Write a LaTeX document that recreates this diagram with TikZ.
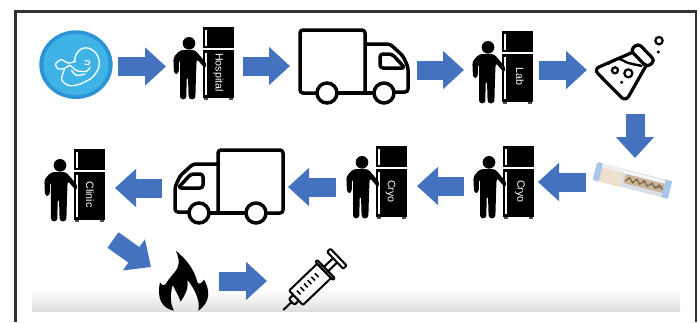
\documentclass[tikz,border=0pt]{standalone}
\usepackage{fontspec}
\setmainfont{Liberation Sans}
\usetikzlibrary{arrows.meta}
\definecolor{arrowblue}{HTML}{4472BE}
\definecolor{frameink}{HTML}{333333}
\definecolor{babyouter}{HTML}{2C93D5}
\definecolor{babyinner}{HTML}{3FB2E6}
\definecolor{vialcap}{HTML}{EFDFCF}
\definecolor{vialblue}{HTML}{A9C6E8}
\definecolor{vialtube}{HTML}{D9DFE6}
\definecolor{vialfill}{HTML}{C9B49A}
\newcommand\skewbox[4]{(#1,#2) -- (#3,#2) -- (#3,#4) -- (#1,#4) -- cycle}
\tikzset{
  zoomat/.style 2 args={shift={(#1,#2)},x=0.3333pt,y=-0.3333pt},
  blockarrow/.style={draw=arrowblue,line width=19pt,-{Triangle[length=21pt,width=37pt]}},
  truckline/.style={draw=black,line width=3.5pt,rounded corners=3pt,line join=round,line cap=round},
  flaskline/.style={draw=black,line width=3.2pt,rounded corners=3pt,line join=round},
  syringeline/.style={draw=black,line width=2pt,rounded corners=1pt,line join=round},
  pics/worker/.style 2 args={code={
    \fill[black] (0,0) rectangle (31,71);
    \fill[white] (0,21) rectangle (31,22.6);
    \fill[white] (2.2,3) rectangle (3.8,19);
    \fill[white] (2.2,26) rectangle (3.8,68);
    \fill[black!70] (1,71) rectangle (5,73);
    \fill[black!70] (26,71) rectangle (30,73);
    \begin{scope}[zoomat={-38}{-7}]
      \fill[black] (72,70) circle[radius=19];
      \fill[black,rounded corners=3pt] (46,90) -- (90,90) -- (126,132) -- (120,146) -- (95,116)
        -- (93,165) -- (91,238) -- (71,238) -- (69,170) -- (65,170) -- (64,238) -- (45,238)
        -- (45,118) -- (42,118) -- (41,162) -- (27,162) -- (25,112) -- cycle;
    \end{scope}
    \node[rotate=-90,text=white,inner sep=0pt,font=\fontsize{10.7}{12}\selectfont] (label) at (#2,45.5) {#1};
  }},
  pics/truck/.style={code={
    \draw[truckline] (317,93) -- (300,93) -- (300,30) -- (365,30) -- (365,93);
    \draw[truckline] (337,93) -- (373,93);
    \draw[truckline] (365,44) -- (390,44) -- (403,56) -- (408,67) -- (408,92) -- (395,92);
    \draw[truckline] (380,54) -- (392,54) -- (405,68) -- (380,68) -- cycle;
    \draw[draw=black,line width=3.5pt] (327,93) circle[radius=10];
    \draw[draw=black,line width=3.5pt] (384,93) circle[radius=10];
  }},
}
\begin{document}
\begin{tikzpicture}[x=1pt,y=-1pt]
\useasboundingbox (0,0) rectangle (699,322);
\fill[white] (0,0) rectangle (699,322);
\shade[top color=white,bottom color=black!13] (32,290) rectangle (680,311.5);
\draw[frameink,line width=2.4pt] (15.3,322) -- (15.3,11.6) -- (696,11.6) -- (696,322);

% baby
\begin{scope}[zoomat={35}{28}]
  \fill[babyouter] (123,110) ellipse[x radius=110,y radius=103];
  \fill[babyinner] (123,110) ellipse[x radius=98,y radius=92];
  \draw[white,line width=1.3pt,line cap=round] plot[smooth] coordinates {(118,100) (124,78) (140,62) (160,60) (180,72) (192,95) (190,122) (170,150) (130,170) (100,172) (80,155) (88,125)};
  \draw[white,line width=1.3pt,line cap=round] plot[smooth] coordinates {(122,100) (100,105) (78,95) (62,108) (68,122) (88,122) (104,112) (125,128) (155,130) (165,118)};
  \draw[white,line width=1.3pt,line cap=round] plot[smooth] coordinates {(110,128) (125,142) (150,138)};
  \draw[white,line width=1.1pt,line cap=round] plot[smooth] coordinates {(150,98) (164,100) (160,110) (150,108)};
\end{scope}

\pic (hospital) at (203,27) {worker={Hospital}{15.5}};
\pic (lab) at (502,31) {worker={Lab}{18}};
\pic (cryoright) at (503,146) {worker={Cryo}{17}};
\pic (cryoleft) at (376,146) {worker={Cryo}{14.5}};
\pic (clinic) at (74,149) {worker={Clinic}{16}};

\pic (truckout) at (0,0) {truck};
\pic[xscale=-1] (truckback) at (583,120) {truck};

% flask
\begin{scope}[zoomat={585}{28}]
  \draw[flaskline,rounded corners=6pt] (145,72) -- (26,124) -- (122,221) -- (186,108);
  \draw[flaskline,rounded corners=4pt] (136,66) -- (160,46) -- (210,98) -- (186,118) -- cycle;
  \draw[black,line width=2.4pt] plot[smooth] coordinates {(68,108) (98,92) (130,105) (172,114)};
  \draw[black,line width=2.2pt] (90,127) circle[radius=9];
  \draw[black,line width=2.2pt] (130,136) circle[radius=12];
  \fill[black] (110,163) circle[radius=5];
  \draw[black,line width=2.2pt] (222,38) circle[radius=11];
  \fill[black] (220,72) circle[radius=5];
\end{scope}

% vial
\begin{scope}[shift={(595,171)},x={(0.323pt,-0.082pt)},y={(-0.082pt,-0.323pt)}]
  \fill[vialtube,rounded corners=2pt] \skewbox{80}{-27}{232}{27};
  \fill[black!3] \skewbox{80}{-24}{232}{-15};
  \fill[vialcap,rounded corners=2pt] \skewbox{0}{-28}{85}{28};
  \fill[vialblue,rounded corners=2pt] \skewbox{0}{-28}{18}{28};
  \fill[black!6] \skewbox{18}{-28}{85}{-16};
  \fill[vialblue] \skewbox{212}{-27}{232}{27};
  \fill[vialfill] \skewbox{92}{-14}{212}{14};
  \draw[brown!60!black,line width=0.9pt] plot coordinates {(95,6) (106,-6) (118,7) (128,-7) (140,6) (150,-8) (163,6) (175,-7) (187,6) (198,-7) (210,5)};
  \draw[black!55,line width=0.9pt] plot coordinates {(150,-4) (164,4) (176,-4) (190,4) (208,-4)};
\end{scope}

% flame
\begin{scope}[zoomat={150}{245}]
  \fill[black] (78,18) .. controls (105,38) and (135,75) .. (142,112)
    .. controls (148,120) and (155,115) .. (162,104)
    .. controls (178,130) and (185,170) .. (145,197)
    .. controls (152,165) and (132,130) .. (113,105)
    .. controls (115,135) and (105,150) .. (92,170)
    .. controls (85,150) and (75,135) .. (68,120)
    .. controls (60,150) and (60,175) .. (72,197)
    .. controls (35,190) and (20,160) .. (30,112)
    .. controls (35,120) and (42,125) .. (47,118)
    .. controls (55,100) and (72,88) .. (82,70)
    .. controls (90,50) and (85,35) .. (78,18) -- cycle;
\end{scope}

% syringe
\begin{scope}[shift={(283.3,310)},x={(0.24pt,0.23pt)},y={(0.23pt,-0.24pt)}]
  \draw[syringeline] (0,0) -- (35,0);
  \draw[syringeline] \skewbox{35}{-12}{53}{12};
  \draw[syringeline] \skewbox{53}{-30}{170}{30};
  \draw[syringeline] \skewbox{170}{-38}{178}{38};
  \draw[syringeline] (178,-9) -- (216,-9);
  \draw[syringeline] (178,9) -- (216,9);
  \draw[syringeline] \skewbox{216}{-35}{230}{35};
  \foreach \s in {70,85,100,115,130,145}
    \draw[black,line width=1.6pt] (\s,-14) -- (\s,2);
\end{scope}

% connectors
\coordinate (a1s) at (118,66.5); \coordinate (a1e) at (166,66.5);
\coordinate (a2s) at (243,66); \coordinate (a2e) at (290,66);
\coordinate (a3s) at (417,70); \coordinate (a3e) at (464,70);
\coordinate (a4s) at (539,70); \coordinate (a4e) at (587,70);
\coordinate (a5s) at (635,113.5); \coordinate (a5e) at (635,158);
\coordinate (a6s) at (586,182); \coordinate (a6e) at (538,182);
\coordinate (a7s) at (464,186); \coordinate (a7e) at (417,186);
\coordinate (a8s) at (336,187); \coordinate (a8e) at (288,187);
\coordinate (a9s) at (162,188); \coordinate (a9e) at (115,188);
\coordinate (a10s) at (113,240); \coordinate (a10e) at (151,267);
\coordinate (a11s) at (219,281); \coordinate (a11e) at (267,281);
\foreach \n in {1,...,11}
  \draw[blockarrow] (a\n s) -- (a\n e);
\end{tikzpicture}
\end{document}
